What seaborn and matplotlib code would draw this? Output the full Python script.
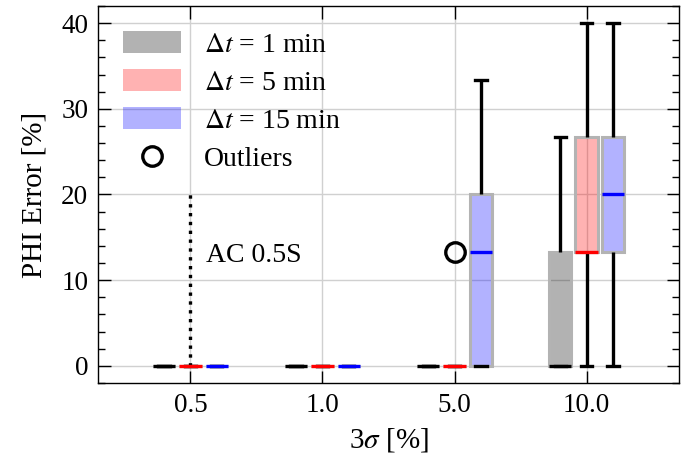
import numpy as np
import pandas as pd
import matplotlib
matplotlib.use("Agg")
import matplotlib.pyplot as plt
import seaborn as sns
from matplotlib.patches import Patch
from matplotlib.lines import Line2D
from matplotlib.ticker import MultipleLocator
from matplotlib.colors import to_rgba

# ---------------- data ----------------
sigma_levels = ["0.5", "1.0", "5.0", "10.0"]
dt_levels = ["1 min", "5 min", "15 min"]
dt_colors = ["black", "red", "blue"]
legend_labels = [r"$\Delta t$ = 1 min", r"$\Delta t$ = 5 min", r"$\Delta t$ = 15 min"]

# PHI error samples [%], one list per 3σ level (0.5, 1.0, 5.0, 10.0)
phi_1min = [
    [0, 0, 0, 0, 0, 0, 0, 0, 0],
    [0, 0, 0, 0, 0, 0, 0, 0, 0],
    [0, 0, 0, 0, 0, 0, 0, 0, 0],
    [0, 0, 0, 0, 0, 6.67, 13.33, 20.0, 26.67],
]
phi_5min = [
    [0, 0, 0, 0, 0, 0, 0, 0, 0],
    [0, 0, 0, 0, 0, 0, 0, 0, 0],
    [0, 0, 0, 0, 0, 0, 0, 0, 13.33],
    [0, 6.67, 13.33, 13.33, 13.33, 20.0, 26.67, 33.33, 40.0],
]
phi_15min = [
    [0, 0, 0, 0, 0, 0, 0, 0, 0],
    [0, 0, 0, 0, 0, 0, 0, 0, 0],
    [0, 0, 0, 13.33, 13.33, 20.0, 20.0, 26.67, 33.33],
    [0, 6.67, 13.33, 13.33, 20.0, 20.0, 26.67, 33.33, 40.0],
]

ac_sigma = "0.5"
ac_limit = 20.0
ac_label = "AC 0.5S"

rows = []
for dt, series in zip(dt_levels, [phi_1min, phi_5min, phi_15min]):
    for sig, vals in zip(sigma_levels, series):
        for v in vals:
            rows.append({"sigma": sig, "dt": dt, "err": v})
df = pd.DataFrame(rows)

# ---------------- style ----------------
plt.rcParams["font.family"] = ["Liberation Serif", "DejaVu Serif"]
plt.rcParams["mathtext.fontset"] = "stix"

fig = plt.figure(figsize=(6.97, 4.61), dpi=100)
ax = fig.add_axes([98 / 697, 1 - 383 / 461, (679 - 98) / 697, (383 - 6) / 461])

sns.boxplot(
    data=df, x="sigma", y="err", hue="dt",
    order=sigma_levels, hue_order=dt_levels,
    palette=dict(zip(dt_levels, dt_colors)), saturation=1,
    width=0.6, gap=0.15, linecolor="black", linewidth=2.4,
    medianprops=dict(linewidth=2.4),
    flierprops=dict(marker="o", markersize=14, markerfacecolor="none",
                    markeredgecolor="black", markeredgewidth=2.4),
    legend=False, ax=ax,
)

for cont, c in zip(ax.containers, dt_colors):
    for b in cont.boxes:
        b.set_alpha(None)
        b.set_facecolor(to_rgba(c, 0.3))
        b.set_edgecolor("#b3b3b3")
        b.set_linewidth(2.2)
    for m in cont.medians:
        m.set_color(c)
        m.set_alpha(1)
        m.set_zorder(3)
        m.set_solid_capstyle("butt")

x_ac = sigma_levels.index(ac_sigma)
ax.vlines(x_ac, 0, ac_limit, colors="black", linestyles=":", linewidth=2.4, zorder=1.5)
ax.text(x_ac + 0.115, 12.9, ac_label, fontsize=20, ha="left", va="center")

ax.set_xlim(-0.7, 3.7)
ax.set_ylim(-2, 42)
ax.yaxis.set_major_locator(MultipleLocator(10))
ax.yaxis.set_minor_locator(MultipleLocator(2))
ax.tick_params(which="both", direction="in", top=True, right=True, labelsize=19.5, width=1)
ax.tick_params(which="major", length=9, pad=7)
ax.tick_params(which="minor", length=5)
ax.tick_params(axis="x", which="minor", bottom=False, top=False)
ax.grid(True, which="major", color="#d0d0d0", linewidth=1)
ax.set_axisbelow(True)
for s in ax.spines.values():
    s.set_linewidth(1)

ax.set_xlabel(r"3$\sigma$ [%]", fontsize=21, labelpad=6)
ax.set_ylabel("PHI Error [%]", fontsize=21, labelpad=10)

handles = [Patch(facecolor=to_rgba(c, 0.3), edgecolor="none") for c in dt_colors]
handles.append(Line2D([], [], marker="o", linestyle="none", markerfacecolor="none",
                      markeredgecolor="black", markeredgewidth=2.4, markersize=14))
ax.legend(handles, legend_labels + ["Outliers"], loc="upper left", frameon=False,
          fontsize=20, handlelength=2.1, handleheight=0.83, labelspacing=0.42,
          handletextpad=0.8, borderaxespad=0.5)

fig.savefig("out.png", dpi=100)
